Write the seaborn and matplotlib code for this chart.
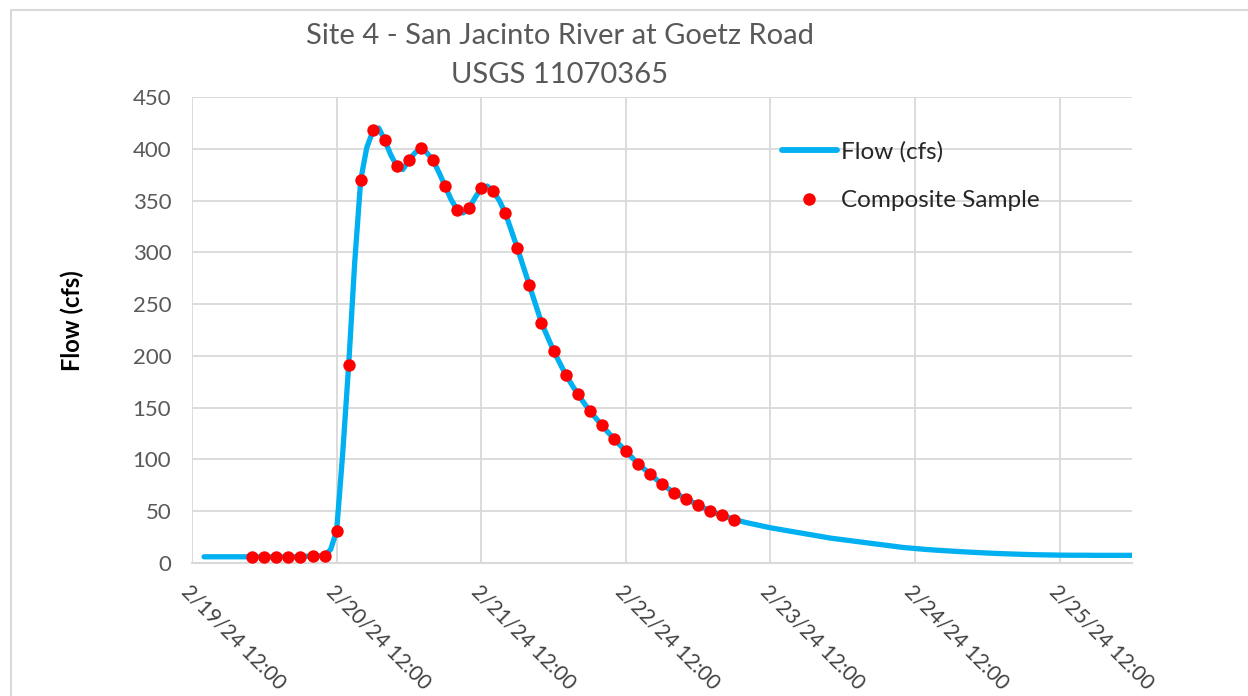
import matplotlib
matplotlib.use("Agg")
import matplotlib.pyplot as plt
from matplotlib.lines import Line2D
from matplotlib.patches import Rectangle
import numpy as np
import pandas as pd
import seaborn as sns

# ---------------- data ----------------
title_lines = ["Site 4 - San Jacinto River at Goetz Road", "USGS 11070365"]
y_label = "Flow (cfs)"
flow_label = "Flow (cfs)"
sample_label = "Composite Sample"

# flow readings: hours after 2/19/24 12:00 and flow (cfs)
flow_hours = (list(range(2, 20, 2)) + list(range(20, 57))
              + list(range(58, 157, 2)))
flow_cfs = [6, 6, 6, 6, 6, 6, 6, 6, 6,
            7, 7, 7, 13, 31, 105, 191, 290, 370, 401,
            417, 420, 408, 394, 383, 380, 389, 396, 401, 396,
            389, 377, 364, 351, 341, 338, 343, 353, 362, 364,
            359, 350, 338, 321, 304, 286, 268,
            232, 205, 182, 163, 147, 133, 120, 108, 96, 86,
            76, 68, 62, 56, 50, 46, 42,
            39, 36.5, 34, 32, 30, 28, 26, 24, 22.5, 21,
            19.5, 18, 16.5, 15, 14, 13, 12.2, 11.5, 10.8, 10.2,
            9.6, 9.1, 8.7, 8.3, 8, 7.8, 7.6, 7.5, 7.5, 7.4,
            7.4, 7.4, 7.4]

sample_start = "2024-02-19 22:00"    # 2-hourly composite samples
sample_cfs = [6, 6, 6, 6, 6, 7, 7,
              31, 191, 370, 418, 408, 383, 389, 401, 389, 364,
              341, 343, 362, 359, 338, 304, 268, 232, 205, 182,
              163, 147, 133, 120, 108, 96, 86, 76, 68, 62,
              56, 50, 46, 42]

tick_times = ["2024-02-19 12:00", "2024-02-20 12:00", "2024-02-21 12:00",
              "2024-02-22 12:00", "2024-02-23 12:00", "2024-02-24 12:00",
              "2024-02-25 12:00"]
tick_labels = ["2/19/24 12:00", "2/20/24 12:00", "2/21/24 12:00",
               "2/22/24 12:00", "2/23/24 12:00", "2/24/24 12:00",
               "2/25/24 12:00"]
x_min, x_max = "2024-02-19 12:00", "2024-02-26 00:00"
y_ticks = [0, 50, 100, 150, 200, 250, 300, 350, 400, 450]

flow_df = pd.DataFrame({
    "time": pd.Timestamp(x_min) + pd.to_timedelta(flow_hours, unit="h"),
    "flow": flow_cfs})
sample_df = pd.DataFrame({
    "time": pd.date_range(sample_start, periods=len(sample_cfs), freq="2h"),
    "flow": sample_cfs})

# ---------------- style ----------------
sns.set_style("white")
plt.rcParams["font.family"] = ["Lato", "DejaVu Sans"]

W, H = 1248, 696
fig = plt.figure(figsize=(W / 100, H / 100), dpi=100)
ax = fig.add_axes([192 / W, 1 - 563 / H, (1132 - 192) / W, (563 - 97) / H])

line_color = "#00B0F0"
dot_color = "#FF0000"
grid_color = "#D9D9D9"

sns.lineplot(data=flow_df, x="time", y="flow", ax=ax, color=line_color,
             linewidth=3.8, solid_capstyle="round", solid_joinstyle="round",
             zorder=3, legend=False)
sns.scatterplot(data=sample_df, x="time", y="flow", ax=ax, color=dot_color,
                s=80, linewidth=0, zorder=4, legend=False)

ax.set_xlim(pd.Timestamp(x_min), pd.Timestamp(x_max))
ax.set_ylim(0, 450)
ax.set_yticks(y_ticks)
ax.set_xticks([pd.Timestamp(t) for t in tick_times])
ax.set_xticklabels(tick_labels, rotation=-45, ha="left", va="top",
                   rotation_mode="anchor", fontsize=15, color="#404040")
ax.tick_params(axis="y", labelsize=16, labelcolor="#595959", length=0, pad=15)
ax.tick_params(axis="x", length=0, pad=13)
ax.grid(True, color=grid_color, linewidth=1.3)
ax.set_axisbelow(True)
for s in ["top", "right", "left"]:
    ax.spines[s].set_visible(False)
ax.spines["bottom"].set_color(grid_color)
ax.spines["bottom"].set_linewidth(1.5)
ax.set_xlabel("")
ax.set_ylabel("")

fig.text(72 / W, 1 - 321 / H, y_label, rotation=90, ha="center", va="center",
         fontsize=17, fontweight="bold", color="black")

fig.text(560 / W, 1 - 36 / H, title_lines[0], ha="center", va="center",
         fontsize=21, color="#595959")
fig.text(560 / W, 1 - 75 / H, title_lines[1], ha="center", va="center",
         fontsize=21, color="#595959")

handles = [Line2D([], [], color=line_color, linewidth=4.2),
           Line2D([], [], color=dot_color, marker="o", linestyle="none",
                  markersize=9, markeredgewidth=0)]
fig.legend(handles, [flow_label, sample_label], loc="upper left",
           bbox_to_anchor=(782 / W, 1 - 141 / H), frameon=False,
           fontsize=17.5, handlelength=2.26, handletextpad=0.16,
           labelspacing=1.15, borderpad=0, borderaxespad=0)

fig.patches.append(Rectangle((11 / W, -0.1), 1.2, 1 - 10 / H + 0.1,
                             transform=fig.transFigure, fill=False,
                             edgecolor="#D9D9D9", linewidth=1.5))

fig.savefig("out.png", dpi=100, facecolor="white")
